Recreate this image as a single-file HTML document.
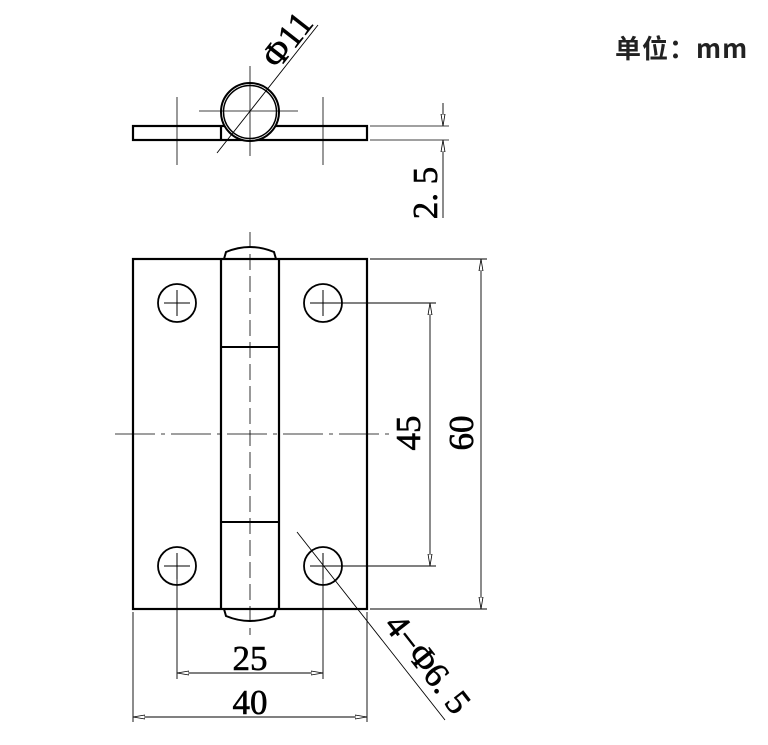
<!DOCTYPE html>
<html><head><meta charset="utf-8"><style>
html,body{margin:0;padding:0;background:#fff}
svg{display:block}
.t{font-family:"Liberation Serif",serif;font-size:35px;fill:#000;stroke:#000;stroke-width:0.6}
</style></head><body>
<svg width="768" height="745" viewBox="0 0 768 745" xmlns="http://www.w3.org/2000/svg">
<defs>
<marker id="a" viewBox="0 0 12 6" refX="12" refY="3" markerWidth="12" markerHeight="6" orient="auto-start-reverse" markerUnits="userSpaceOnUse">
<path d="M0,1 L12,3 L0,5 Z" fill="#fff" stroke="#000" stroke-width="0.8"/>
</marker>
</defs>
<text x="615" y="58" font-family="'Noto Sans CJK SC','WenQuanYi Zen Hei',sans-serif" font-weight="bold" font-size="26" fill="#222" letter-spacing="1">单位：mm</text>

<!-- TOP VIEW -->
<g stroke="#000" fill="none">
<rect x="133" y="126" width="234" height="14" stroke-width="2.2"/>
<line x1="221" y1="126" x2="221" y2="140" stroke-width="2.2"/>
<circle cx="250" cy="112" r="29" fill="#fff" stroke-width="2"/>
<circle cx="250" cy="112" r="26.5" stroke-width="1.5"/>
<line x1="250" y1="66" x2="250" y2="156" stroke-width="0.8"/>
<line x1="199" y1="111" x2="298" y2="111" stroke-width="0.8"/>
<line x1="177" y1="97" x2="177" y2="165" stroke-width="0.8"/>
<line x1="323" y1="97" x2="323" y2="165" stroke-width="0.8"/>
<line x1="217" y1="153" x2="318" y2="25" stroke-width="0.9"/>
<line x1="370" y1="126" x2="449" y2="126" stroke-width="0.8"/>
<line x1="370" y1="140" x2="449" y2="140" stroke-width="0.8"/>
<line x1="443" y1="103" x2="443" y2="126" stroke-width="0.9" marker-end="url(#a)"/>
<line x1="443" y1="218" x2="443" y2="140" stroke-width="0.9" marker-end="url(#a)"/>
</g>
<text class="t" transform="translate(290,42) rotate(-52)" text-anchor="middle" dominant-baseline="middle">Φ11</text>
<text class="t" transform="translate(429,193) rotate(-90)" text-anchor="middle" dominant-baseline="middle">2. 5</text>

<!-- FRONT VIEW -->
<g stroke="#000" fill="none">
<path d="M224,259 L226,252 Q250,242 274,252 L276,259" stroke-width="2" fill="#fff"/>
<path d="M224,609 L226,616 Q250,626 274,616 L276,609" stroke-width="2" fill="#fff"/>
<rect x="133" y="259" width="234" height="350" stroke-width="2.2"/>
<line x1="221" y1="259" x2="221" y2="609" stroke-width="2.2"/>
<line x1="279" y1="259" x2="279" y2="609" stroke-width="2.2"/>
<line x1="221" y1="347" x2="279" y2="347" stroke-width="2"/>
<line x1="221" y1="522" x2="279" y2="522" stroke-width="2"/>
<line x1="250" y1="232" x2="250" y2="635" stroke-width="0.8" stroke-dasharray="16,6"/>
<line x1="115" y1="434" x2="395" y2="434" stroke-width="0.8" stroke-dasharray="40,6,4,6"/>
<circle cx="177" cy="303" r="19" stroke-width="1.8"/>
<circle cx="323" cy="303" r="19" stroke-width="1.8"/>
<circle cx="177" cy="566" r="19" stroke-width="1.8"/>
<circle cx="323" cy="566" r="19" stroke-width="1.8"/>
<g stroke-width="1">
<line x1="164" y1="303" x2="190" y2="303"/><line x1="177" y1="290" x2="177" y2="316"/>
<line x1="310" y1="303" x2="336" y2="303"/><line x1="323" y1="290" x2="323" y2="316"/>
<line x1="164" y1="566" x2="190" y2="566"/><line x1="177" y1="553" x2="177" y2="579"/>
<line x1="310" y1="566" x2="336" y2="566"/><line x1="323" y1="553" x2="323" y2="579"/>
</g>
<g stroke-width="0.9">
<line x1="323" y1="303" x2="436" y2="303"/>
<line x1="323" y1="566" x2="436" y2="566"/>
<line x1="430" y1="434" x2="430" y2="303" marker-end="url(#a)"/>
<line x1="430" y1="434" x2="430" y2="566" marker-end="url(#a)"/>
<line x1="370" y1="259" x2="487" y2="259"/>
<line x1="370" y1="609" x2="487" y2="609"/>
<line x1="481" y1="434" x2="481" y2="259" marker-end="url(#a)"/>
<line x1="481" y1="434" x2="481" y2="609" marker-end="url(#a)"/>
<line x1="177" y1="566" x2="177" y2="679"/>
<line x1="323" y1="566" x2="323" y2="679"/>
<line x1="250" y1="673" x2="177" y2="673" marker-end="url(#a)"/>
<line x1="250" y1="673" x2="323" y2="673" marker-end="url(#a)"/>
<line x1="133" y1="612" x2="133" y2="722"/>
<line x1="367" y1="612" x2="367" y2="722"/>
<line x1="250" y1="717" x2="133" y2="717" marker-end="url(#a)"/>
<line x1="250" y1="717" x2="367" y2="717" marker-end="url(#a)"/>
<line x1="297" y1="532" x2="445" y2="720"/>
</g>
</g>
<text class="t" transform="translate(412,433) rotate(-90)" text-anchor="middle" dominant-baseline="middle">45</text>
<text class="t" transform="translate(465,433) rotate(-90)" text-anchor="middle" dominant-baseline="middle">60</text>
<text class="t" x="250" y="670" text-anchor="middle">25</text>
<text class="t" x="250" y="714" text-anchor="middle">40</text>
<text class="t" transform="translate(425,666) rotate(52)" text-anchor="middle" dominant-baseline="middle">4−Φ6. 5</text>
</svg>
</body></html>
